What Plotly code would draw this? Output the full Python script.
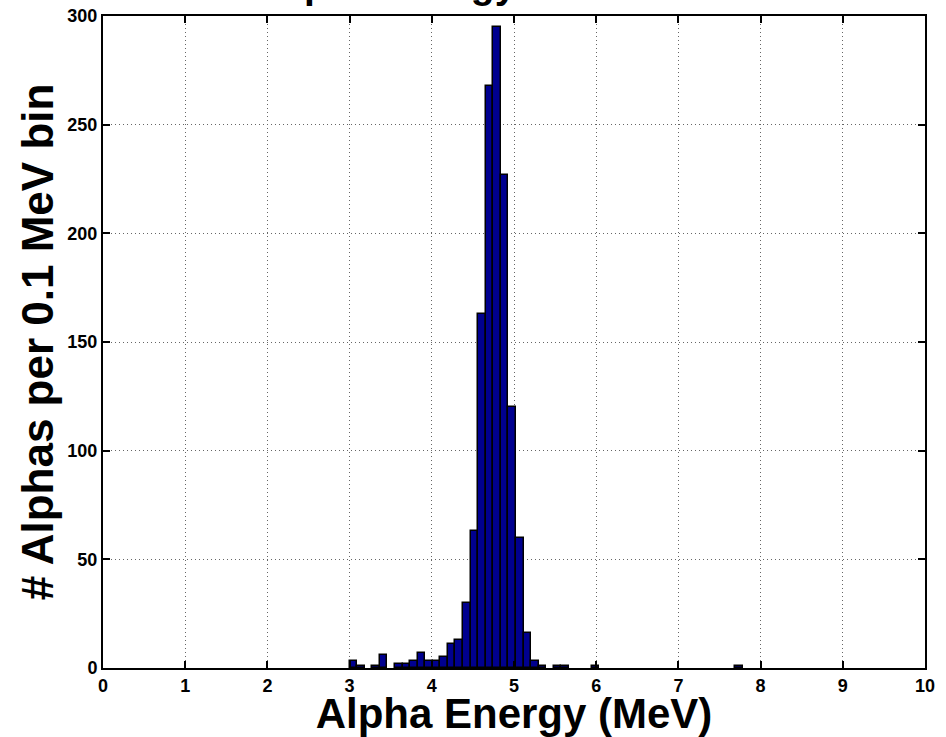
import plotly.graph_objects as go

# Histogram definition
bin_start = 3.0      # MeV, left edge of first bin
bin_width = 0.092    # MeV
counts = [3, 1, 0, 1, 6, 0, 2, 2, 3, 7,
          3, 3, 5, 11, 13, 30, 63, 163, 268, 295,
          227, 120, 60, 16, 3, 1, 0, 1, 1, 0,
          0, 0, 1, 0, 0, 0, 0, 0, 0, 0,
          0, 0, 0, 0, 0, 0, 0, 0, 0, 0,
          0, 1]

x_ticks = list(range(0, 11))
y_ticks = [0, 50, 100, 150, 200, 250, 300]
title_text = "Alpha Energy Distribution"
x_label = "Alpha Energy (MeV)"
y_label = "# Alphas per 0.1 MeV bin"

centers = [bin_start + (i + 0.5) * bin_width for i in range(len(counts))]
heights = [c if c > 0 else None for c in counts]

fig = go.Figure()
fig.add_trace(go.Bar(
    x=centers, y=heights, width=bin_width,
    marker=dict(color="#00008F", line=dict(color="black", width=1.5)),
))

tick_font = dict(family="Liberation Sans Narrow, Arial Narrow, sans-serif", size=18, color="black")
label_font = dict(family="Liberation Sans, Arial, sans-serif", size=42, color="black")

axis_common = dict(
    showline=True, linecolor="black", linewidth=2, mirror="ticks",
    ticks="inside", ticklen=7, tickwidth=2, tickcolor="black",
    showgrid=True, gridcolor="#666666", griddash="1px,3px", gridwidth=1,
    zeroline=False, tickfont=tick_font, automargin=False,
)

fig.update_layout(
    width=946, height=737,
    margin=dict(l=103, r=21, t=16, b=69),
    paper_bgcolor="white", plot_bgcolor="white",
    showlegend=False, bargap=0,
    xaxis=dict(range=[0, 10], tickvals=x_ticks, ticktext=[f"<b>{v}</b>" for v in x_ticks],
               title=dict(text=f"<b>{x_label}</b>", font=label_font, standoff=2),
               **axis_common),
    yaxis=dict(range=[0, 300], tickvals=y_ticks, ticktext=[f"<b>{v}</b>" for v in y_ticks],
               title=dict(text=f"<b>{y_label}</b>", font=dict(label_font, size=44), standoff=0),
               **axis_common),
    annotations=[dict(text=f"<b>{title_text}</b>", font=dict(family="Liberation Sans, Arial, sans-serif", size=39, color="black"),
                      xref="paper", yref="paper", x=0.49, y=1, xanchor="center", yanchor="bottom",
                      yshift=8, showarrow=False)],
)

fig.write_html("out.html")
